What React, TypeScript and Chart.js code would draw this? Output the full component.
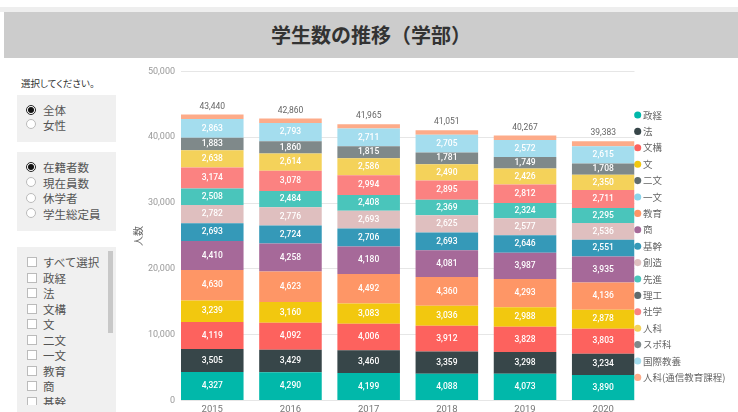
import React, { useEffect, useRef } from "react";
import { Chart, registerables } from "chart.js";

Chart.register(...registerables);

const years = ["2015", "2016", "2017", "2018", "2019", "2020"];
const faculties = [
  "政経", "法", "文構", "文", "二文", "一文", "教育", "商", "基幹", "創造",
  "先進", "理工", "社学", "人科", "スポ科", "国際教養", "人科(通信教育課程)",
];
const colors = [
  "#01B8AA", "#374649", "#FD625E", "#F2C80F", "#5F6B6D", "#8AD4EB", "#FE9666",
  "#A66999", "#3599B8", "#DFBFBF", "#4AC5BB", "#5F6B6D", "#FB8281", "#F4D25A",
  "#7F898A", "#A4DDEE", "#FDAB89",
];

const seikei = [4327, 4290, 4199, 4088, 4073, 3890];
const hou = [3505, 3429, 3460, 3359, 3298, 3234];
const bunkou = [4119, 4092, 4006, 3912, 3828, 3803];
const bun = [3239, 3160, 3083, 3036, 2988, 2878];
const nibun = [0, 0, 0, 0, 0, 0];
const ichibun = [0, 0, 0, 0, 0, 0];
const kyouiku = [4630, 4623, 4492, 4360, 4293, 4136];
const shou = [4410, 4258, 4180, 4081, 3987, 3935];
const kikan = [2693, 2724, 2706, 2693, 2646, 2551];
const souzou = [2782, 2776, 2693, 2625, 2577, 2536];
const senshin = [2508, 2484, 2408, 2369, 2324, 2295];
const rikou = [0, 0, 0, 0, 0, 0];
const shagaku = [3174, 3078, 2994, 2895, 2812, 2711];
const jinka = [2638, 2614, 2586, 2490, 2426, 2350];
const supoka = [1883, 1860, 1815, 1781, 1749, 1708];
const kokusai = [2863, 2793, 2711, 2705, 2572, 2615];
const tsushin = [669, 679, 632, 657, 694, 741];

const seriesValues = [
  seikei, hou, bunkou, bun, nibun, ichibun, kyouiku, shou, kikan, souzou,
  senshin, rikou, shagaku, jinka, supoka, kokusai, tsushin,
];

const yTicks = [0, 10000, 20000, 30000, 40000, 50000];

const radio1 = ["全体", "女性"];
const radio2 = ["在籍者数", "現在員数", "休学者", "学生総定員"];
const checkList = ["すべて選択", "政経", "法", "文構", "文", "二文", "一文", "教育", "商", "基幹"];

const NUM_FONT = "Roboto, 'Liberation Sans', sans-serif";
const JP_FONT = "'Noto Sans CJK JP', sans-serif";

const labelPlugin = {
  id: "barLabels",
  afterLayout(chart: any) {
    const lg = chart.legend;
    if (lg) {
      lg.left -= 4.2;
      lg.right -= 4.2;
    }
  },
  afterDatasetsDraw(chart: any) {
    const ctx = chart.ctx;
    ctx.save();
    ctx.textAlign = "center";
    ctx.textBaseline = "middle";
    ctx.font = `500 8.5px ${NUM_FONT}`;
    ctx.fillStyle = "#FFFFFF";
    chart.data.datasets.forEach((ds: any, di: number) => {
      const meta = chart.getDatasetMeta(di);
      meta.data.forEach((el: any, i: number) => {
        const v = seriesValues[di][i];
        if (v < 1000) return;
        ctx.fillText(v.toLocaleString("en-US"), el.x, (el.y + el.base) / 2);
      });
    });
    const xs = chart.scales.x;
    const ys = chart.scales.y;
    ctx.fillStyle = "#666666";
    ctx.font = `8.5px ${NUM_FONT}`;
    years.forEach((_, i) => {
      const total = seriesValues.reduce((s, arr) => s + arr[i], 0);
      ctx.fillText(total.toLocaleString("en-US"), xs.getPixelForValue(i), ys.getPixelForValue(total) - 8);
    });
    ctx.restore();
  },
};

function Radio({ label, selected, top }: { label: string; selected: boolean; top: number }) {
  return (
    <div style={{ position: "absolute", left: 0, top, height: 16, width: 99 }}>
      <div
        style={{
          position: "absolute",
          left: 9,
          top: 2.5,
          width: 10,
          height: 10,
          borderRadius: "50%",
          boxSizing: "border-box",
          border: selected ? "1px solid #222" : "1px solid #BBBBBB",
          background: "#FFFFFF",
        }}
      >
        {selected && (
          <div
            style={{
              position: "absolute",
              left: 1,
              top: 1,
              width: 6,
              height: 6,
              borderRadius: "50%",
              background: "#111",
            }}
          />
        )}
      </div>
      <div
        style={{
          position: "absolute",
          left: 26,
          top: 0,
          lineHeight: "16px",
          fontSize: 11.5,
          color: "#555",
          whiteSpace: "nowrap",
        }}
      >
        {label}
      </div>
    </div>
  );
}

function Check({ label, top }: { label: string; top: number }) {
  return (
    <div style={{ position: "absolute", left: 0, top, height: 16, width: 90 }}>
      <div
        style={{
          position: "absolute",
          left: 10,
          top: 3,
          width: 10,
          height: 10,
          boxSizing: "border-box",
          border: "1px solid #BBBBBB",
          background: "#FFFFFF",
        }}
      />
      <div
        style={{
          position: "absolute",
          left: 26,
          top: 0,
          lineHeight: "16px",
          fontSize: 11.5,
          color: "#555",
          whiteSpace: "nowrap",
        }}
      >
        {label}
      </div>
    </div>
  );
}

export default function App() {
  const canvasRef = useRef<HTMLCanvasElement | null>(null);

  useEffect(() => {
    if (!canvasRef.current) return;
    const datasets = faculties.map((name, di) => ({
      label: name,
      data: seriesValues[di].map((v, i) => ({ x: i, y: v })),
      backgroundColor: colors[di],
      borderWidth: 0,
      barPercentage: 0.8,
      categoryPercentage: 1,
    }));
    const chart = new Chart(canvasRef.current, {
      type: "bar",
      data: { datasets },
      options: {
        responsive: false,
        animation: false,
        events: [],
        layout: { padding: { top: 10, right: 3.5, left: 0, bottom: 0 } },
        plugins: {
          tooltip: { enabled: false },
          legend: {
            position: "right",
            align: "start",
            maxWidth: 100,
            title: { display: true, text: "", font: { size: 10 }, padding: { top: 21.35, bottom: 0 } },
            labels: {
              usePointStyle: true,
              pointStyle: "circle",
              boxWidth: 1,
              boxHeight: 5,
              padding: 6.9,
              color: "#666666",
              font: { size: 9.5, family: JP_FONT },
            },
          },
        },
        scales: {
          x: {
            type: "linear",
            min: -0.4,
            max: 5.4,
            stacked: true,
            offset: false,
            grid: { display: false, drawTicks: false },
            border: { display: false },
            afterBuildTicks: (scale: any) => {
              scale.ticks = years.map((_, i) => ({ value: i }));
            },
            ticks: {
              autoSkip: false,
              maxRotation: 0,
              padding: 3,
              color: "#777777",
              font: { size: 9.5, family: NUM_FONT },
              callback: (v: any) => years[v] ?? "",
            },
          },
          y: {
            stacked: true,
            min: 0,
            max: 50000,
            afterFit: (scale: any) => {
              scale.width = 61;
            },
            afterBuildTicks: (scale: any) => {
              scale.ticks = yTicks.map((v) => ({ value: v }));
            },
            grid: { color: "#E6E6E6", lineWidth: 1, drawTicks: false },
            border: { display: false },
            ticks: {
              padding: 6,
              color: "#999999",
              font: { size: 9, family: NUM_FONT },
              callback: (v: any) => Number(v).toLocaleString("en-US"),
            },
            title: {
              display: true,
              text: "人数",
              color: "#666666",
              font: { size: 10, family: JP_FONT },
              padding: { top: 12, bottom: 0 },
            },
          },
        },
      },
      plugins: [labelPlugin],
    } as any);
    return () => chart.destroy();
  }, []);

  return (
    <div
      style={{
        position: "fixed",
        left: 0,
        top: 0,
        width: 738,
        height: 412,
        overflow: "hidden",
        background: "#FFFFFF",
        fontFamily: JP_FONT,
      }}
    >
      <div style={{ position: "absolute", left: 0, top: 7, width: 738, height: 5, background: "#EEEEEE" }} />
      <div
        style={{
          position: "absolute",
          left: 4,
          top: 12,
          width: 734,
          height: 46,
          background: "#CCCCCC",
          textAlign: "center",
          lineHeight: "46px",
          fontSize: 20,
          fontWeight: 700,
          color: "#333333",
        }}
      >
        学生数の推移（学部）
      </div>

      <div
        style={{
          position: "absolute",
          left: 21,
          top: 76,
          fontSize: 9.5,
          lineHeight: "14px",
          color: "#333",
          fontFeatureSettings: "'palt'",
          whiteSpace: "nowrap",
        }}
      >
        選択してください。
      </div>

      <div style={{ position: "absolute", left: 17, top: 95, width: 99, height: 47, background: "#F0F0F0" }}>
        {radio1.map((r, i) => (
          <Radio key={r} label={r} selected={i === 0} top={7 + i * 14.5} />
        ))}
      </div>

      <div style={{ position: "absolute", left: 17, top: 152, width: 99, height: 79, background: "#F0F0F0" }}>
        {radio2.map((r, i) => (
          <Radio key={r} label={r} selected={i === 0} top={7 + i * 15.6} />
        ))}
      </div>

      <div style={{ position: "absolute", left: 17, top: 247, width: 99, height: 165, background: "#F0F0F0", overflow: "hidden" }}>
        <div style={{ position: "absolute", left: 0, top: 0, width: 99, height: 158, overflow: "hidden" }}>
          {checkList.map((c, i) => (
            <Check key={c} label={c} top={7 + i * 15.5} />
          ))}
        </div>
        <div style={{ position: "absolute", left: 91, top: 4, width: 5, height: 82, background: "#C8C8C8" }} />
      </div>

      <div style={{ position: "absolute", left: 120, top: 60, width: 618, height: 358 }}>
        <canvas ref={canvasRef} width={618} height={358} style={{ width: 618, height: 358, display: "block" }} />
      </div>
    </div>
  );
}
